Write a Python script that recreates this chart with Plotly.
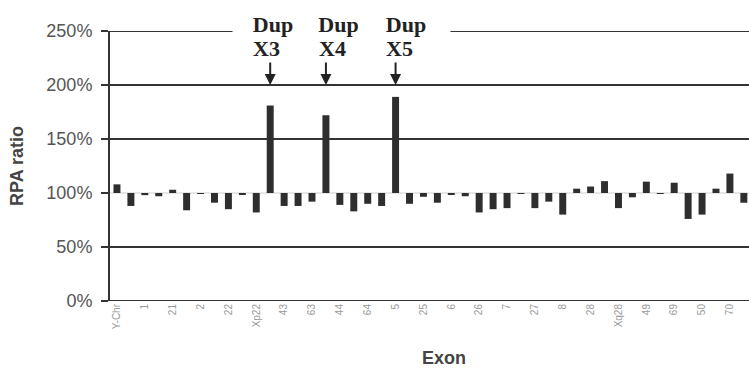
import plotly.graph_objects as go

# RPA ratio (%) per probe, in chart order
ratio = [108, 88, 98, 97, 103, 84, 99.5, 91, 85, 99,
         82, 181, 88, 88, 92, 172, 89, 83, 90, 88,
         189, 90, 96.5, 91, 99, 97, 82, 85, 86, 99.5,
         86, 92, 80, 104, 106, 111, 86, 96, 110.5, 99.5,
         109.5, 76, 80, 104, 118, 91]
# labels shown under every other probe
tick_labels = ["Y-Chr", "1", "21", "2", "22", "Xp22", "43", "63", "44", "64", "5",
               "25", "6", "26", "7", "27", "8", "28", "Xq28", "49", "69", "50", "70"]
dup_labels = ["X3", "X4", "X5"]
grid_levels = [50, 100, 150, 200, 250]
baseline = 100

x = list(range(len(ratio)))
dup_idx = [i for i, v in enumerate(ratio) if v > 150]

# label styling (pixel offsets / box widths for the hand-placed callouts)
dup_xshift = [3, 13, 10]
lab_xshift = [-4, 7, 4]
box_width = [78, 49, 86]

serif = "Liberation Serif, Times New Roman, serif"
sans = "Liberation Sans, Arial, sans-serif"

fig = go.Figure()
fig.add_trace(go.Bar(
    x=x, y=[v - baseline for v in ratio], base=baseline,
    marker=dict(color="#2e2e2e", line=dict(width=0)),
    hoverinfo="skip",
))

shapes = []
for g in grid_levels:
    shapes.append(dict(
        type="line", xref="paper", x0=0, x1=1, yref="y", y0=g, y1=g,
        line=dict(color="#cfcfcf" if g == baseline else "#333333",
                  width=1 if g == baseline else 2),
        layer="below",
    ))

top = max(grid_levels)
annotations = []
for k, (i, lab) in enumerate(zip(dup_idx, dup_labels)):
    # arrow pointing down to the 200% line
    annotations.append(dict(
        x=i, y=200, xref="x", yref="y", text="",
        showarrow=True, arrowhead=2, arrowsize=1.1, arrowwidth=2,
        arrowcolor="#222222", ax=0, ay=-24,
    ))
    annotations.append(dict(
        x=i, y=top, xref="x", yref="y", text="<b>Dup</b>", showarrow=False,
        xanchor="center", yanchor="middle", xshift=dup_xshift[k], yshift=7,
        font=dict(family=serif, size=22, color="#222222"),
        bgcolor="white", width=box_width[k], borderpad=1, align="center",
    ))
    annotations.append(dict(
        x=i, y=top, xref="x", yref="y", text="<b>" + lab + "</b>", showarrow=False,
        xanchor="center", yanchor="middle", xshift=lab_xshift[k], yshift=-17,
        font=dict(family=serif, size=22, color="#222222"),
    ))
annotations.append(dict(
    x=(444 - 110) / 639, y=-(358 - 301) / 270, xref="paper", yref="paper",
    text="<b>Exon</b>", showarrow=False, xanchor="center", yanchor="middle",
    font=dict(family=sans, size=18, color="#444444"),
))

fig.update_layout(
    width=749, height=370,
    margin=dict(l=110, r=0, t=31, b=69),
    paper_bgcolor="white", plot_bgcolor="white",
    showlegend=False, bargap=0.5,
    shapes=shapes, annotations=annotations,
    xaxis=dict(
        range=[-0.5, 45.37], tickmode="array",
        tickvals=x[::2], ticktext=tick_labels, tickangle=-90,
        tickfont=dict(family=sans, size=10, color="#9a9a9a"),
        showgrid=False, zeroline=False, showline=False, ticks="",
    ),
    yaxis=dict(
        range=[0, 250], tickvals=[0, 50, 100, 150, 200, 250],
        ticktext=["0%", "50%", "100%", "150%", "200%", "250%"],
        tickfont=dict(family=sans, size=18, color="#555555"),
        ticks="outside", ticklen=7, tickwidth=2, tickcolor="#333333",
        ticklabelstandoff=5,
        showline=True, linecolor="#333333", linewidth=2,
        showgrid=False, zeroline=False,
        title=dict(text="<b>RPA ratio</b>", standoff=18,
                   font=dict(family=sans, size=18, color="#444444")),
    ),
)
fig.add_shape(type="line", xref="paper", x0=0, x1=1, yref="y", y0=0, y1=0,
              line=dict(color="#333333", width=2), layer="above")

fig.write_html("out.html")
